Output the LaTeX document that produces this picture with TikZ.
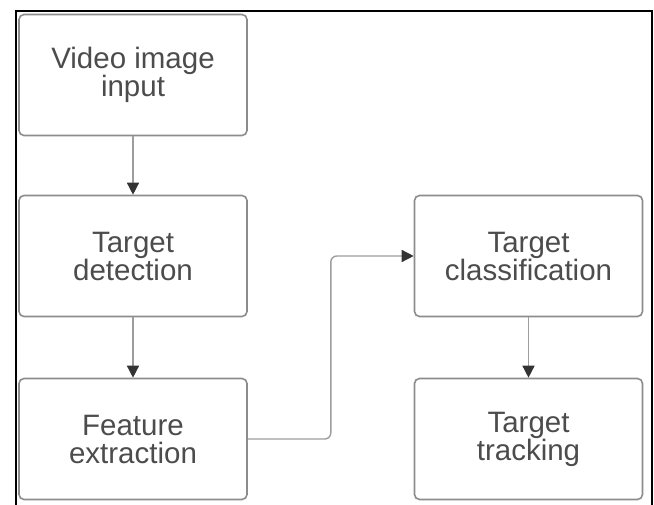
\documentclass[tikz,border=0pt]{standalone}
\usepackage{fontspec}
\setmainfont{Liberation Sans}
\usepackage{tikz}
\usetikzlibrary{positioning}
\usetikzlibrary{arrows.meta}
\usepackage{xcolor}

\definecolor{boxline}{HTML}{8C8C8C}
\definecolor{boxtext}{HTML}{4C4C4C}
\definecolor{tipcol}{HTML}{333333}

\begin{document}
\begin{tikzpicture}[x=1pt, y=1pt,
    every node/.style={font=\fontsize{29.5}{28}\selectfont},
    stage/.style={draw=boxline, line width=1.6pt, rounded corners=5pt,
        minimum width=228pt, minimum height=121pt, align=center,
        text=boxtext, inner sep=0pt},
    flow/.style={draw=boxline!85, line width=1.4pt, rounded corners=6pt,
        -{Triangle[length=12pt, width=12pt, fill=tipcol, color=tipcol]}}]
\useasboundingbox (0,0) rectangle (654,504);

% outer frame
\draw[black, line width=1.6pt] (16,-4) -- (16,493) -- (652,493) -- (652,-4);

% Stages
\node[stage] (video) at (133,429) {Video image\\input};
\node[stage] (detect) at (133,248) {Target\\detection};
\node[stage] (feature) at (133,65) {Feature\\extraction};
\node[stage] (classify) at (528.5,248) {Target\\classification};
\node[stage] (track) at (528.5,65) {Target\\tracking};

% connectors
\draw[flow] (video) -- (detect);
\draw[flow] (detect) -- (feature);
\draw[flow] (feature.east) -- ++(83,0) |- (classify.west);
\draw[flow] (classify) -- (track);
\end{tikzpicture}
\end{document}
